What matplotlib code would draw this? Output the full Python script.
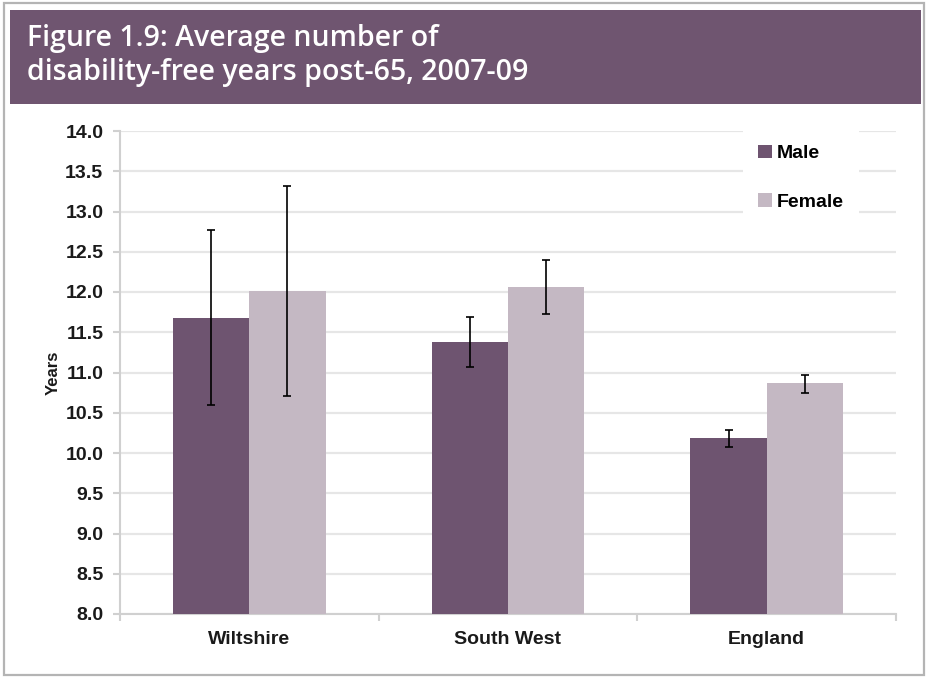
import numpy as np
import matplotlib
matplotlib.use("Agg")
import matplotlib.pyplot as plt
from matplotlib.patches import Rectangle

# ── Data ─────────────────────────────────────────────────────────────────────
areas = ["Wiltshire", "South West", "England"]
male = [11.68, 11.38, 10.19]
male_lo = [10.60, 11.07, 10.08]
male_hi = [12.77, 11.69, 10.29]
female = [12.01, 12.06, 10.87]
female_lo = [10.71, 11.73, 10.75]
female_hi = [13.32, 12.40, 10.97]
y_ticks = [8.0, 8.5, 9.0, 9.5, 10.0, 10.5, 11.0, 11.5, 12.0, 12.5, 13.0, 13.5, 14.0]

MALE_C = "#6e5470"
FEMALE_C = "#c4b8c3"
HEAD_C = "#6f5570"
LAB_FONT = "Liberation Sans"

fig = plt.figure(figsize=(9.28, 6.77), dpi=100, facecolor="white")

# outer frame + heading band
fig.patches.append(Rectangle((0.004, 0.003), 0.992, 0.993, transform=fig.transFigure,
                             facecolor="none", edgecolor="#b4b4b4", linewidth=1.6))
fig.patches.append(Rectangle((10 / 928, 1 - 104 / 677), 911 / 928, 94 / 677,
                             transform=fig.transFigure, facecolor=HEAD_C, edgecolor="none"))
fig.text(27 / 928, 1 - 46 / 677, "Figure 1.9: Average number of",
         color="white", fontsize=20.5, family="Open Sans", fontweight="semibold", va="baseline")
fig.text(27 / 928, 1 - 80 / 677, "disability-free years post-65, 2007-09",
         color="white", fontsize=20.5, family="Open Sans", fontweight="semibold", va="baseline")

# ── Chart ────────────────────────────────────────────────────────────────────
ax = fig.add_axes([120 / 928, 63 / 677, 776 / 928, 483 / 677])
x = np.arange(len(areas))
w = 0.295

male = np.array(male)
female = np.array(female)
m_err = [male - np.array(male_lo), np.array(male_hi) - male]
f_err = [female - np.array(female_lo), np.array(female_hi) - female]

ax.bar(x - w / 2, male - 8, w, bottom=8, color=MALE_C, label="Male", zorder=3)
ax.bar(x + w / 2, female - 8, w, bottom=8, color=FEMALE_C, label="Female", zorder=3)
ax.errorbar(x - w / 2, male, yerr=m_err, fmt="none", ecolor="black",
            elinewidth=1.2, capsize=3, capthick=1.2, zorder=4)
ax.errorbar(x + w / 2, female, yerr=f_err, fmt="none", ecolor="black",
            elinewidth=1.2, capsize=3, capthick=1.2, zorder=4)

ax.set_xlim(-0.5, len(areas) - 0.5)
ax.set_ylim(8.0, 14.0)
ax.set_yticks(y_ticks)
ax.set_yticklabels([f"{v:.1f}" for v in y_ticks])
ax.yaxis.grid(True, color="#e6e6e6", linewidth=1.6, zorder=0)
ax.set_axisbelow(True)

ax.set_xticks(x)
ax.set_xticklabels(areas)
ax.set_xticks(np.arange(len(areas) + 1) - 0.5, minor=True)
ax.tick_params(axis="x", which="major", length=0, pad=12)
ax.tick_params(axis="x", which="minor", length=5, color="#d0d0d0", width=1.5)
ax.tick_params(axis="y", length=5, color="#d0d0d0", width=1.5, pad=7)

for lab in ax.get_xticklabels() + ax.get_yticklabels():
    lab.set_family(LAB_FONT)
    lab.set_fontweight("bold")
    lab.set_fontsize(14)
    lab.set_color("#1a1a1a")

for side in ("top", "right"):
    ax.spines[side].set_visible(False)
for side in ("left", "bottom"):
    ax.spines[side].set_color("#d0d0d0")
    ax.spines[side].set_linewidth(1.5)

ax.set_ylabel("Years", family=LAB_FONT, fontweight="bold",
              fontsize=12, color="#1a1a1a", labelpad=3)

leg = ax.legend(loc="upper left", bbox_to_anchor=(0.79, 1.024), frameon=True,
                facecolor="white", edgecolor="none", framealpha=1, fancybox=False,
                handlelength=0.7, handleheight=0.7, handletextpad=0.25,
                labelspacing=1.6, borderpad=0.8,
                prop={"family": LAB_FONT, "weight": "bold", "size": 14})
leg.set_zorder(5)

fig.savefig("out.png", dpi=100, facecolor="white")
